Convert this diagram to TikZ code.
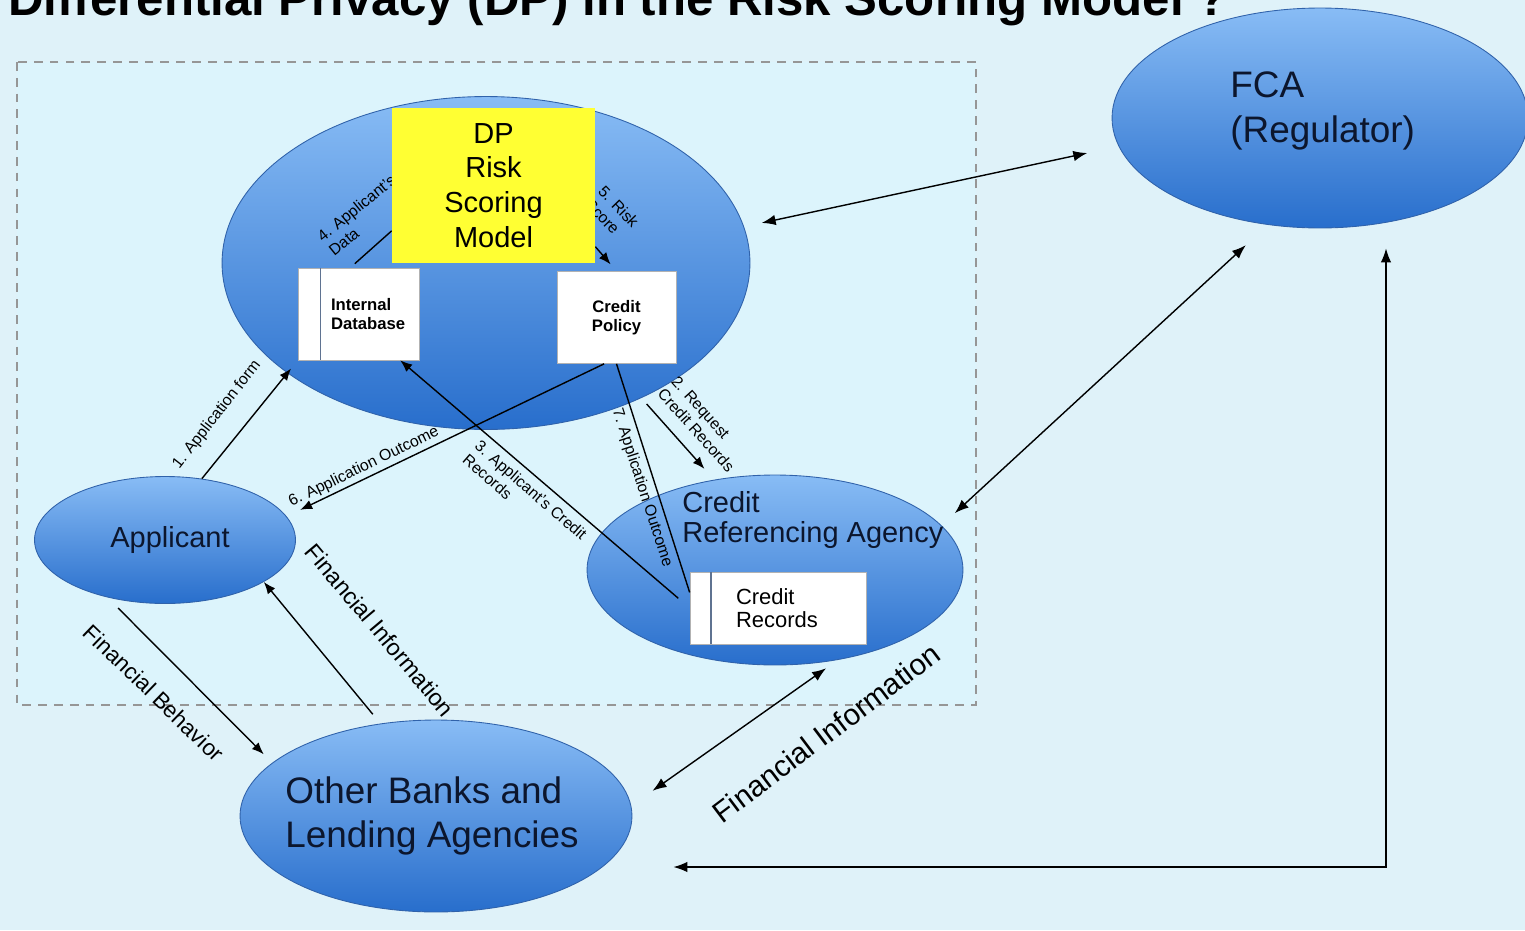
\documentclass[tikz,border=0pt]{standalone}
\usepackage{fontspec}
\setmainfont{Liberation Sans}
\usetikzlibrary{shapes,arrows.meta,positioning}

\definecolor{bgsky}{RGB}{223,242,249}
\definecolor{boxsky}{RGB}{220,244,252}
\definecolor{elltop}{RGB}{136,188,245}
\definecolor{ellbot}{RGB}{40,110,204}
\definecolor{ellrim}{RGB}{48,98,170}
\definecolor{rimgray}{RGB}{95,115,145}
\definecolor{dpyellow}{RGB}{255,255,51}
\definecolor{dashgray}{RGB}{150,150,150}
\definecolor{inknavy}{RGB}{12,22,45}

\pgfdeclarelayer{front}
\pgfsetlayers{main,front}

\tikzstyle{party} = [ellipse, draw=ellrim, line width=0.5pt, top color=elltop, bottom color=ellbot, inner sep=0pt, text=inknavy]
\tikzstyle{partytext} = [anchor=west, align=left, inner sep=0pt, text=inknavy]
\tikzstyle{store} = [rectangle, draw=gray!60, fill=white, inner sep=0pt]
\tikzstyle{storetext} = [align=left, inner sep=0pt, text=black]
\tikzstyle{flow} = [draw, line width=0.8pt, -{Latex[length=0.24cm,width=0.19cm]}]
\tikzstyle{twoway} = [draw, line width=0.8pt, {Latex[length=0.28cm,width=0.21cm]}-{Latex[length=0.28cm,width=0.21cm]}]
\tikzstyle{steplabel} = [font=\fontsize{9}{10.5}\selectfont, align=left, inner sep=0pt]
\tikzstyle{bigtext} = [font=\fontsize{21}{25.5}\selectfont]

\begin{document}
\begin{tikzpicture}[x=0.02cm, y=-0.02cm]
\fill[bgsky] (0,0) rectangle (1525,930);
\useasboundingbox (0,0) rectangle (1525,930);
% the bank: dashed frame
\draw[dashgray, line width=1.1pt, dash pattern=on 5pt off 4pt, fill=boxsky] (17,62) rectangle (976,705);

\node[anchor=base west, inner sep=0pt, font=\fontsize{28}{30}\selectfont\bfseries] (title) at (8,15) {Differential Privacy (DP) in the Risk Scoring Model ?};

% parties
\node[party, minimum width=10.56cm, minimum height=6.66cm] (bank) at (486,263) {};
\node[party, minimum width=8.32cm, minimum height=4.4cm] (fca) at (1320,118) {};
\node[partytext, bigtext] (fcatext) at (1230,111) {FCA\\(Regulator)};
\node[party, minimum width=5.22cm, minimum height=2.54cm, font=\fontsize{16.5}{19}\selectfont] (applicant) at (165,540) {\hspace*{0.2cm}Applicant};
\node[party, minimum width=7.52cm, minimum height=3.8cm] (cra) at (775,570) {};
\node[partytext, font=\fontsize{16.5}{17}\selectfont] (cratext) at (682,520) {Credit\\Referencing Agency};
\node[party, minimum width=7.84cm, minimum height=3.84cm] (banks) at (436,816) {};
\node[partytext, bigtext] (bankstext) at (285,816) {Other Banks and\\Lending Agencies};

% stores
\node[store, minimum width=2.42cm, minimum height=1.84cm] (intdb) at (358.5,314) {};
\draw[rimgray, line width=0.8pt] ([xshift=0.46cm]intdb.north west) -- ([xshift=0.46cm]intdb.south west);
\node[storetext, right=0.66cm of intdb.west, font=\fontsize{9.5}{10.8}\selectfont\bfseries] (intdbtext) {Internal\\Database};
\node[store, minimum width=2.38cm, minimum height=1.84cm, align=center, font=\fontsize{9.5}{10.8}\selectfont\bfseries] (credpol) at (616.5,317.5) {Credit\\Policy};
\node[store, minimum width=3.52cm, minimum height=1.44cm] (recs) at (778,608) {};
\draw[rimgray, line width=0.8pt] ([xshift=0.43cm]recs.north west) -- ([xshift=0.43cm]recs.south west);
\node[storetext, right=0.92cm of recs.west, font=\fontsize{12.5}{13}\selectfont] (recstext) {Credit\\Records};

% the model box sits on top of steps 4 and 5
\begin{pgfonlayer}{front}
\node[fill=dpyellow, minimum width=4.06cm, minimum height=3.1cm, inner sep=0pt, align=center, font=\fontsize{16.5}{19.8}\selectfont] (dp) at (493.5,185.5) {DP\\Risk\\Scoring\\Model};
\end{pgfonlayer}
\draw[line width=0.8pt, shorten <=0.12cm] (intdb.100) -- (dp.204);
\node[steplabel, rotate=39] (lab4) at (362,215) {4. Applicant's\\Data};
\node[steplabel, rotate=-46] (lab5) at (612,213) {5. Risk\\Score};
\draw[flow, shorten >=0.18cm] (dp.-31) -- (credpol.north);

% steps
\draw[flow, shorten >=0.21cm] (applicant.59) -- (intdb.south west);
\node[steplabel, rotate=52] (lab1) at (217,415) {1. Application form};
\draw[flow, shorten <=0.16cm, shorten >=0.29cm] (bank.-41) -- (cra.124);
\node[steplabel, rotate=-48] (lab2) at (703,424) {2. Request\\Credit Records};
\draw[flow, shorten <=0.3cm] (recs.west) -- (intdb.-48);
\node[steplabel, rotate=-41] (lab3) at (525,497) {3. Applicant's Credit\\Records};
\draw[flow, shorten >=0.3cm] (credpol.-105) -- (applicant.11);
\node[steplabel, rotate=26] (lab6) at (364,467) {6. Application Outcome};
\draw[line width=0.8pt] (credpol.south) -- (recs.170);
\node[steplabel, rotate=-72] (lab7) at (642,488) {7. Application Outcome};

% outside the bank
\draw[twoway, shorten <=0.36cm, shorten >=0.64cm] (bank.8) -- (fca.188);
\draw[twoway, shorten <=0.36cm, shorten >=0.6cm] (cra.15) -- (fca.244);
\draw[twoway, shorten <=0.52cm, shorten >=0.29cm] (banks.3) -- (cra.-55);
\node[font=\fontsize{16.9}{18}\selectfont, rotate=37, inner sep=0pt] (fininfo2) at (826,733) {Financial Information};
\draw[flow, shorten <=0.3cm, shorten >=0.24cm] (applicant.225) -- (banks.162);
\node[font=\fontsize{12.8}{14}\selectfont, rotate=-44, inner sep=0pt] (finbeh) at (154,693) {Financial Behavior};
\draw[flow, shorten <=0.24cm] (banks.121) -- (applicant.-23);
\node[font=\fontsize{13.3}{14}\selectfont, rotate=-50, inner sep=0pt] (fininfo1) at (380,630) {Financial Information};
\coordinate (elbow) at (1386,867);
\draw[twoway, shorten <=0.4cm, shorten >=0.82cm] (fca.south -| elbow) -- (elbow) -- (banks.east |- elbow);
\end{tikzpicture}
\end{document}
